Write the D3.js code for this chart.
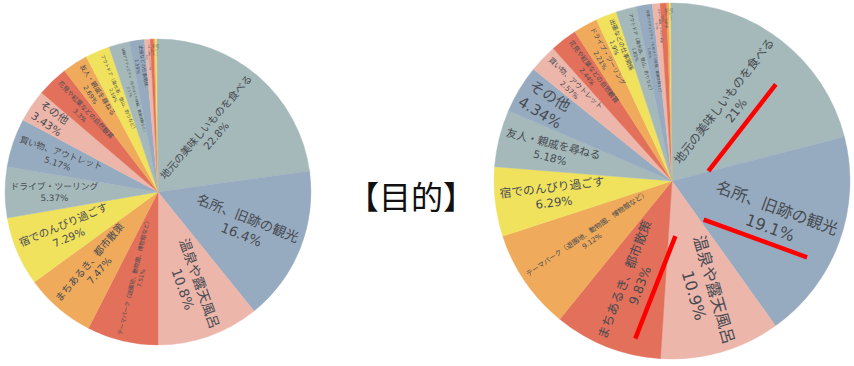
<!DOCTYPE html>
<html>
<head>
<meta charset="utf-8">
<script src="https://cdn.jsdelivr.net/npm/d3@7"></script>
<style>
  html, body { margin: 0; padding: 0; background: #fff; }
  svg { display: block; }
</style>
</head>
<body>
<svg id="chart" width="854" height="366"></svg>
<script>
// ---------- data ----------
const leftLabels = [
  "地元の美味しいものを食べる",
  "名所、旧跡の観光",
  "温泉や露天風呂",
  "テーマパーク（遊園地、動物園、博物館など）",
  "まちあるき、都市散策",
  "宿でのんびり過ごす",
  "ドライブ・ツーリング",
  "買い物、アウトレット",
  "その他",
  "花見や紅葉などの自然観賞",
  "友人・親戚を尋ねる",
  "アウトドア（海水浴、登山、釣りなど）",
  "体験アクティビティ（ものづくり体験、農業体験など）",
  "出張などの仕事関係",
  "スポーツ観戦、イベント参加",
  "お祭り・伝統行事",
  "帰省",
  "スキー・スノーボード",
  "写真撮影"
];
const leftValues = [22.8, 16.4, 10.8, 7.51, 7.47, 7.29, 5.37, 5.17, 3.43, 3.3, 2.69, 2.59, 2.17, 1.59, 0.6, 0.38, 0.14, 0.2, 0.1];

const rightLabels = [
  "地元の美味しいものを食べる",
  "名所、旧跡の観光",
  "温泉や露天風呂",
  "まちあるき、都市散策",
  "テーマパーク（遊園地、動物園、博物館など）",
  "宿でのんびり過ごす",
  "友人・親戚を尋ねる",
  "その他",
  "買い物、アウトレット",
  "花見や紅葉などの自然観賞",
  "ドライブ・ツーリング",
  "出張などの仕事関係",
  "アウトドア（海水浴、登山、釣りなど）",
  "体験アクティビティ（ものづくり体験、農業体験など）",
  "スポーツ観戦、イベント参加",
  "お祭り・伝統行事",
  "帰省",
  "スキー・スノーボード",
  "写真撮影"
];
const rightValues = [21, 19.1, 10.9, 9.83, 9.12, 6.29, 5.18, 4.34, 2.57, 2.44, 2.21, 1.9, 1.85, 1.45, 0.7, 0.6, 0.22, 0.15, 0.1];

// categories underlined in red on the right-hand pie
const rightHighlighted = ["地元の美味しいものを食べる", "名所、旧跡の観光", "まちあるき、都市散策"];

const titleText = "【目的】";
const palette = ["#a5b9ba", "#97abc0", "#ecb6ab", "#e2705a", "#efaa5c", "#f1e25e"];

// ---------- drawing ----------
const svg = d3.select("#chart");
const FONT = "'DejaVu Sans', 'Noto Sans CJK JP', sans-serif";
const TITLE_FONT = "'Noto Sans CJK JP', sans-serif";
const color = i => palette[i % palette.length];
const fmt = d3.format(".3~r");

function drawPie(labels, values, cx, cy, r, baseFont, highlighted) {
  const rows = labels.map((l, i) => ({ label: l, v: values[i], i }));
  const arcs = d3.pie().sort(null).value(d => d.v)(rows);
  const arc = d3.arc().innerRadius(0).outerRadius(r);
  const total = d3.sum(values);
  const g = svg.append("g").attr("transform", `translate(${cx},${cy})`);

  g.selectAll("path").data(arcs).join("path")
    .attr("d", arc)
    .attr("fill", d => color(d.data.i))
    .attr("stroke", d => color(d.data.i))
    .attr("stroke-width", 0.4);

  const R = r - 5;
  const hn = 2.3;
  g.selectAll("g.lab").data(arcs).join("g").attr("class", "lab")
    .each(function (d) {
      const sel = d3.select(this);
      const t1 = sel.append("text").text(d.data.label)
        .attr("font-family", FONT).attr("font-size", baseFont)
        .attr("text-anchor", "middle").attr("dominant-baseline", "central")
        .attr("fill", "#474b52");
      const t2 = sel.append("text").text(fmt(d.data.v / total * 100) + "%")
        .attr("font-family", FONT).attr("font-size", baseFont)
        .attr("text-anchor", "middle").attr("dominant-baseline", "central")
        .attr("fill", "#474b52");
      const w = Math.max(t1.node().getComputedTextLength(), t2.node().getComputedTextLength());
      const wn = w / baseFont;
      const half = (d.endAngle - d.startAngle) / 2;
      const fits = f => {
        const hh = hn * f / 2;
        if (hh >= R) return false;
        const r2 = Math.sqrt(R * R - hh * hh);
        const r1 = r2 - wn * f;
        if (r1 < 0) return false;
        if (half < Math.PI / 2 && r1 * Math.tan(half) < hh) return false;
        return true;
      };
      let f;
      if (fits(baseFont)) f = baseFont;
      else {
        let lo = 0, hi = baseFont;
        for (let k = 0; k < 40; k++) {
          const m = (lo + hi) / 2;
          if (fits(m)) lo = m; else hi = m;
        }
        f = Math.max(lo, 1.2);
      }
      const hh = hn * f / 2;
      const r2 = Math.sqrt(Math.max(0, R * R - hh * hh));
      const rc = Math.max(0, r2 - wn * f / 2);
      const mid = (d.startAngle + d.endAngle) / 2;
      const deg = mid * 180 / Math.PI;
      const outward = deg < 180;
      const rot = outward ? deg - 90 : deg - 270;
      sel.attr("transform", `translate(${rc * Math.sin(mid)},${-rc * Math.cos(mid)}) rotate(${rot})`);
      t1.attr("font-size", f).attr("y", -0.65 * f);
      t2.attr("font-size", f).attr("y", 0.65 * f);

      if (highlighted && highlighted.includes(d.data.label)) {
        // underline drawn slightly toward the pie centre
        const yLine = 0.65 * f + 15;
        const shift = outward ? -10 : 4;
        sel.append("line")
          .attr("x1", -55 + shift).attr("x2", 55 + shift)
          .attr("y1", yLine).attr("y2", yLine)
          .attr("stroke", "#ff0000")
          .attr("stroke-width", 4.5);
      }
    });
}

drawPie(leftLabels, leftValues, 158, 192, 153, 13.5, null);
drawPie(rightLabels, rightValues, 672, 181, 178, 16, rightHighlighted);

svg.append("text")
  .attr("x", 411).attr("y", 195)
  .attr("text-anchor", "middle").attr("dominant-baseline", "central")
  .attr("font-family", TITLE_FONT).attr("font-size", 32)
  .attr("fill", "#111")
  .text(titleText);
</script>
</body>
</html>
